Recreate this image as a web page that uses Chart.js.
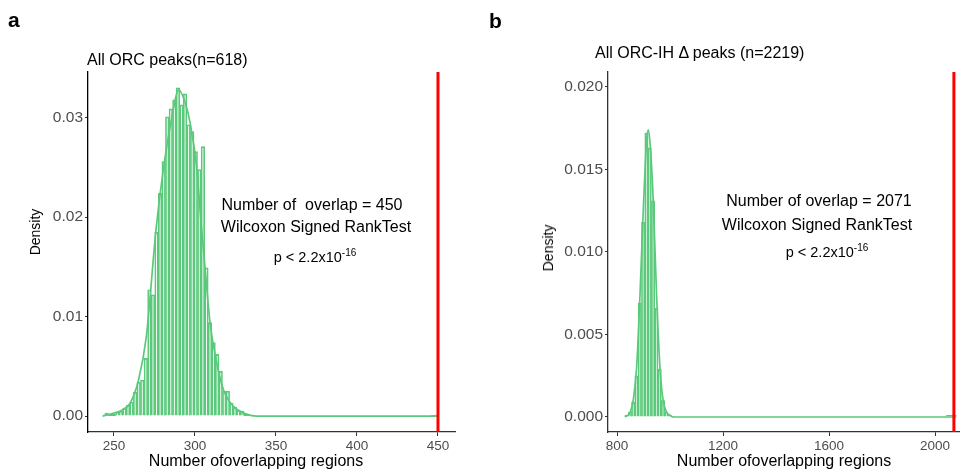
<!DOCTYPE html>
<html>
<head>
<meta charset="utf-8">
<script src="https://cdn.jsdelivr.net/npm/chart.js@4.4.1/dist/chart.umd.min.js"></script>
<style>
  html, body { margin:0; padding:0; background:#fff; }
  #wrap { position:relative; width:960px; height:476px; overflow:hidden; font-family:"Liberation Sans", Arial, sans-serif; color:#000; }
  canvas { position:absolute; top:0; }
  .t { position:absolute; white-space:nowrap; line-height:1; transform:translate(-50%,-50%); }
  .l { position:absolute; white-space:nowrap; line-height:1; transform:translate(0,-50%); }
  sup { font-size:10px; vertical-align:6px; line-height:0; }
</style>
</head>
<body>
<div id="wrap">
  <canvas id="ca" width="480" height="476" style="left:0;width:480px;height:476px"></canvas>
  <canvas id="cb" width="480" height="476" style="left:480px;width:480px;height:476px"></canvas>

  <div class="l" style="left:8px;top:19px;font-size:21px;font-weight:bold">a</div>
  <div class="l" style="left:489px;top:20px;font-size:21px;font-weight:bold">b</div>

  <div class="l" style="left:87px;top:60px;font-size:16px">All ORC peaks(n=618)</div>
  <div class="l" style="left:595px;top:53px;font-size:16px">All ORC-IH &Delta; peaks (n=2219)</div>

  <div class="t" style="left:312px;top:205px;font-size:16px">Number of&nbsp; overlap = 450</div>
  <div class="t" style="left:316px;top:227px;font-size:16px">Wilcoxon Signed RankTest</div>
  <div class="t" style="left:315px;top:257px;font-size:14.5px">p &lt; 2.2x10<sup>-16</sup></div>

  <div class="t" style="left:819px;top:201px;font-size:16px">Number of overlap = 2071</div>
  <div class="t" style="left:817px;top:225px;font-size:16px">Wilcoxon Signed RankTest</div>
  <div class="t" style="left:827px;top:252px;font-size:14.5px">p &lt; 2.2x10<sup>-16</sup></div>

  <div class="t" style="left:35px;top:232px;font-size:14px;transform:translate(-50%,-50%) rotate(-90deg)">Density</div>
  <div class="t" style="left:548px;top:248px;font-size:14px;transform:translate(-50%,-50%) rotate(-90deg)">Density</div>

  <div class="t" style="left:256px;top:461px;font-size:16px">Number ofoverlapping regions</div>
  <div class="t" style="left:784px;top:461px;font-size:16px">Number ofoverlapping regions</div>
</div>
<script>
// ---------- Panel a data ----------
const binCentersA = [245.5,247.7,249.9,252.1,254.3,256.5,258.7,260.9,263.1,265.3,267.5,269.7,271.9,274.1,276.3,278.5,280.7,282.9,285.1,287.3,289.5,291.7,293.9,296.1,298.3,300.5,302.7,304.9,307.1,309.3,311.5,313.7,315.9,318.1,320.3,322.5,324.7,326.9,329.1,331.3,333.5,335.7,447.1,449.3];
const densA = [0.0003,0.0002,0.0002,0.0004,0.0005,0.0008,0.0011,0.0014,0.0024,0.0034,0.0036,0.0058,0.0127,0.0122,0.0185,0.0224,0.0256,0.0301,0.0309,0.0318,0.0330,0.0313,0.0324,0.0293,0.0286,0.0266,0.0248,0.0271,0.0149,0.0094,0.0074,0.0062,0.0045,0.0025,0.0025,0.0013,0.0009,0.0006,0.0005,0.0002,0.0001,0.0001,0.0001,0.0001];
const curveXA = [243,250,256,260,265,270,276,280.5,285.5,290,294,297,301,304,306.2,309.3,313.4,317.5,323.6,331.8,338,450];
const curveYA = [0,0.0003,0.0007,0.0013,0.0035,0.008,0.0188,0.0248,0.0298,0.0328,0.0315,0.0295,0.0251,0.019,0.015,0.0094,0.0054,0.0027,0.001,0.0002,0,0];
const observedA = 450;
const xTicksA = [250,300,350,400,450];
const yTicksA = [0,0.01,0.02,0.03];
const xRangeA = [234,460.5];
const yRangeA = [-0.0016,0.0346];

// ---------- Panel b data ----------
const binCentersB = [836,848.5,861,873.5,886,898.5,911,923.5,936,948.5,961,973.5,986,998.5,2049,2061.5,2074];
const densB = [0.0001,0.0003,0.0009,0.0025,0.0069,0.0118,0.0172,0.0163,0.0131,0.0066,0.0029,0.001,0.0003,0.0001,0.0001,0.0001,0.0001];
const curveXB = [830,850,862,874,887,899,912,918,925,937,949,962,974,987,1000,1012,2080];
const curveYB = [0,0.0003,0.0011,0.003,0.0075,0.0125,0.0168,0.0174,0.0165,0.013,0.0075,0.003,0.001,0.0003,0.0001,0,0];
const observedB = 2071;
const xTicksB = [800,1200,1600,2000];
const yTicksB = [0,0.005,0.01,0.015,0.02];
const xRangeB = [766,2094];
const yRangeB = [-0.00091,0.0209];

const GREEN = '#5bc97b';
const AXIS = '#333333';
const TICKTXT = '#4d4d4d';
const FONT = "'Liberation Sans', Arial, sans-serif";

function makeChart(id, o) {
  return new Chart(document.getElementById(id), {
    type: 'bar',
    data: {
      datasets: [
        { type:'line', data:[{x:o.obs,y:o.yRange[0]},{x:o.obs,y:o.yRange[1]}], borderColor:'#ff0000', borderWidth:3, pointRadius:0, order:0, clip:false },
        { type:'line', data:o.cx.map((x,i)=>({x:x,y:o.cy[i]})), borderColor:GREEN, borderWidth:1.7, pointRadius:0, cubicInterpolationMode:'monotone', order:1 },
        { type:'bar', data:o.bins.map((x,i)=>({x:x,y:o.dens[i]})), backgroundColor:'rgba(255,255,255,0)', borderColor:GREEN, borderWidth:1, barPercentage:1, categoryPercentage:1, order:2 }
      ]
    },
    options: {
      responsive:false, animation:false, devicePixelRatio:1,
      layout:{ padding:{ top:72, right:o.padRight, bottom:0, left:0 } },
      plugins:{ legend:{display:false}, tooltip:{enabled:false} },
      scales:{
        x:{ type:'linear', min:o.xRange[0], max:o.xRange[1], offset:false,
            afterBuildTicks:s=>{ s.ticks = o.xTicks.map(v=>({value:v})); },
            afterFit:s=>{ s.height = 44; },
            ticks:{ color:TICKTXT, font:{family:FONT,size:13.5}, padding:2, maxRotation:0, autoSkip:false, callback:v=>String(v) },
            grid:{ display:true, offset:false, drawOnChartArea:false, drawTicks:true, tickLength:4, color:AXIS },
            border:{ display:true, color:AXIS, width:1.3 } },
        y:{ type:'linear', min:o.yRange[0], max:o.yRange[1],
            afterBuildTicks:s=>{ s.ticks = o.yTicks.map(v=>({value:v})); },
            afterFit:s=>{ s.width = o.yWidth; },
            ticks:{ color:TICKTXT, font:{family:FONT,size:15.5}, padding:2, callback:v=>v.toFixed(o.dec) },
            grid:{ display:true, offset:false, drawOnChartArea:false, drawTicks:true, tickLength:3, color:AXIS },
            border:{ display:true, color:o.yAxisColor, width:1.3 } }
      }
    }
  });
}

makeChart('ca', { obs:observedA, bins:binCentersA, dens:densA, cx:curveXA, cy:curveYA, xTicks:xTicksA, yTicks:yTicksA, xRange:xRangeA, yRange:yRangeA, padRight:25, yWidth:88, dec:2, yAxisColor:'#000' });
makeChart('cb', { obs:observedB, bins:binCentersB, dens:densB, cx:curveXB, cy:curveYB, xTicks:xTicksB, yTicks:yTicksB, xRange:xRangeB, yRange:yRangeB, padRight:0, yWidth:128, dec:3, yAxisColor:AXIS });
</script>
</body>
</html>
